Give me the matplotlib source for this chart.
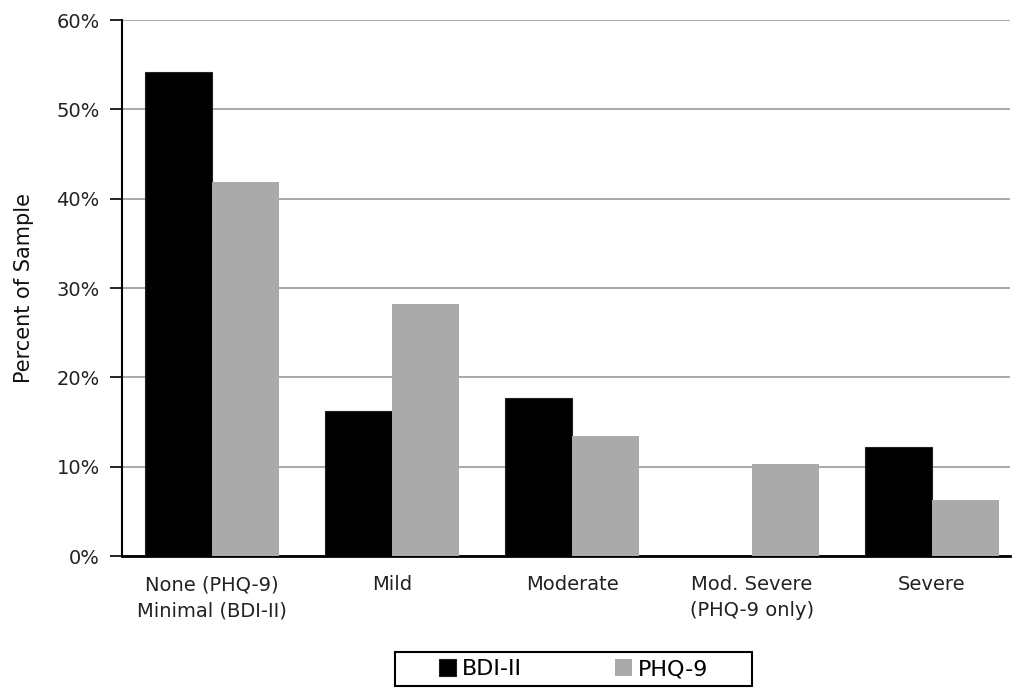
import matplotlib
matplotlib.use("Agg")
import matplotlib.pyplot as plt
import numpy as np
from matplotlib.ticker import FuncFormatter
from matplotlib.patches import Rectangle

plt.rcParams['font.family'] = ['DejaVu Sans']

categories = ["None (PHQ-9)\nMinimal (BDI-II)", "Mild", "Moderate", "Mod. Severe\n(PHQ-9 only)", "Severe"]
bdi = [54.2, 16.2, 17.7, 0.0, 12.2]
phq = [41.9, 28.2, 13.4, 10.3, 6.3]
series_names = ["BDI-II", "PHQ-9"]
yticks = [0, 10, 20, 30, 40, 50, 60]

W, H = 1016, 688
fig = plt.figure(figsize=(W / 100, H / 100), dpi=100)
ax = fig.add_axes([122 / W, 1 - 556 / H, 888 / W, 536 / H])

x = np.arange(len(categories))
w = 0.37
ax.bar(x - w/2, bdi, width=w, color="black", edgecolor="#222222", linewidth=0.8, label=series_names[0], zorder=3)
ax.bar(x + w/2, phq, width=w, color="#aaaaaa", linewidth=0, label=series_names[1], zorder=3)

ax.set_xlim(-0.5, 4.433)
ax.set_ylim(0, 60)
ax.set_yticks(yticks)
ax.yaxis.set_major_formatter(FuncFormatter(lambda v, p: f"{int(v)}%"))
ax.yaxis.grid(True, color="#999999", linewidth=1.2, zorder=0)
ax.set_axisbelow(True)
ax.set_xticks(x)
ax.set_xticklabels(categories, fontsize=14, color="#222222", linespacing=1.45)
ax.tick_params(axis='x', length=0, pad=14)
ax.tick_params(axis='y', length=9, width=1.2, direction='out', labelsize=14, labelcolor="#222222", pad=7)
ax.set_ylabel("Percent of Sample", fontsize=15, labelpad=16, color="#111111")

for s in ["top", "right"]:
    ax.spines[s].set_visible(False)
ax.spines["left"].set_linewidth(1.5)
ax.spines["bottom"].set_linewidth(2)

leg = fig.legend(loc="center", bbox_to_anchor=(573.5 / W, 1 - 669 / H), ncol=2, frameon=False,
                 fontsize=16, handlelength=0.77, handleheight=0.77,
                 handletextpad=0.27, columnspacing=4.2, borderpad=0.0, borderaxespad=0)
fig.add_artist(Rectangle((395 / W, 1 - 686 / H), 357 / W, 34 / H, transform=fig.transFigure,
                         fill=False, edgecolor="black", linewidth=1.5))

fig.savefig("out.png", dpi=100)
